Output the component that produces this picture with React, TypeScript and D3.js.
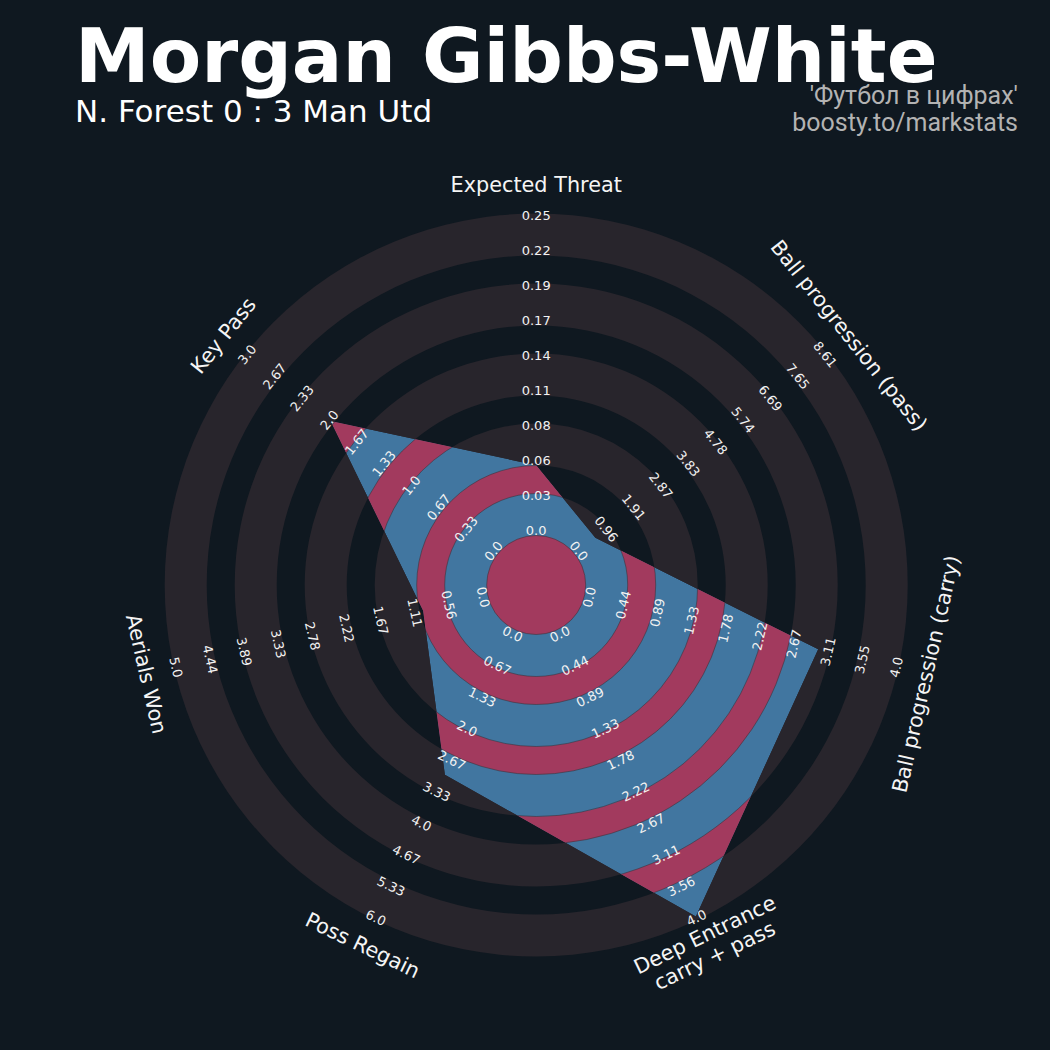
import React from 'react';
import * as d3 from 'd3';

const params = ['Expected Threat', 'Ball progression (pass)', 'Ball progression (carry)', 'Deep Entrance\ncarry + pass', 'Poss Regain', 'Aerials Won', 'Key Pass'];
const lows = [0, 0, 0, 0, 0, 0, 0];
const highs = [0.25, 8.61, 4.0, 4.0, 6.0, 5.0, 3.0];
const values = [0.053, 0.62, 3.0, 4.0, 3.0, 1.0, 2.0];
const rangeLabels = [
  ['0.0', '0.03', '0.06', '0.08', '0.11', '0.14', '0.17', '0.19', '0.22', '0.25'],
  ['0.0', '0.96', '1.91', '2.87', '3.83', '4.78', '5.74', '6.69', '7.65', '8.61'],
  ['0.0', '0.44', '0.89', '1.33', '1.78', '2.22', '2.67', '3.11', '3.55', '4.0'],
  ['0.0', '0.44', '0.89', '1.33', '1.78', '2.22', '2.67', '3.11', '3.56', '4.0'],
  ['0.0', '0.67', '1.33', '2.0', '2.67', '3.33', '4.0', '4.67', '5.33', '6.0'],
  ['0.0', '0.56', '1.11', '1.67', '2.22', '2.78', '3.33', '3.89', '4.44', '5.0'],
  ['0.0', '0.33', '0.67', '1.0', '1.33', '1.67', '2.0', '2.33', '2.67', '3.0'],
];
const title = 'Morgan Gibbs-White';
const subtitle = 'N. Forest 0 : 3 Man Utd';
const credits = ["'Футбол в цифрах'", 'boosty.to/markstats'];

const W = 1050;
const H = 1050;
const cx = 536.2;
const cy = 585;
const rInner = 53;
const rOuter = 368;
const inflate = 3.5;
const paramR = 400;

const BG = '#0f1820';
const GRAY = '#28252c';
const BLUE = '#4176a0';
const CRIMSON = '#a23a5e';
const FONT = "'DejaVu Sans', sans-serif";

function rotFor(deg: number) {
  if (deg > 90 && deg < 270) return deg - 180;
  if (deg >= 270) return deg - 360;
  return deg;
}

export default function App() {
  const n = params.length;
  const angleScale = d3.scaleLinear().domain([0, n]).range([0, 2 * Math.PI]);
  const ringScale = d3.scaleLinear().domain([0, 9]).range([rInner, rOuter]);
  const edges = d3.range(10).map((k) => ringScale(k));
  const radial = params.map((_, i) => d3.scaleLinear().domain([lows[i], highs[i]]).range([rInner, rOuter]));

  const pt = (a: number, r: number): [number, number] => [cx + r * Math.sin(a), cy - r * Math.cos(a)];

  const polyPts = values.map((v, i) => pt(angleScale(i), radial[i](v)));
  const polyPath = d3.line()(polyPts.concat([polyPts[0]])) + 'Z';

  const arc = d3.arc();
  const darkBands: [number, number][] = [[0, edges[0] - inflate]];
  for (let j = 1; j < 9; j += 2) darkBands.push([edges[j] + inflate, edges[j + 1] - inflate]);
  const annulus = (a: number, b: number) =>
    arc({ innerRadius: a, outerRadius: b, startAngle: 0, endAngle: 2 * Math.PI } as any) as string;

  return (
    <svg width={W} height={H} style={{ position: 'absolute', left: 0, top: 0, background: BG }}>
      <rect x={0} y={0} width={W} height={H} fill={BG} />
      <defs>
        <clipPath id="polyClip">
          <path d={polyPath} transform={`translate(${-cx},${-cy})`} />
        </clipPath>
      </defs>
      <g transform={`translate(${cx},${cy})`}>
        <circle r={rOuter + inflate} fill={GRAY} />
        {darkBands.map(([a, b], i) => (
          <path key={'d' + i} d={annulus(a, b)} fill={BG} />
        ))}
        <g clipPath="url(#polyClip)">
          <path d={polyPath} transform={`translate(${-cx},${-cy})`} fill={BLUE} />
          {darkBands.map(([a, b], i) => (
            <path key={'c' + i} d={annulus(a, b)} fill={CRIMSON} stroke="#3a3540" strokeWidth={0.6} />
          ))}
        </g>
      </g>

      {params.map((p, i) => {
        const deg = (angleScale(i) * 180) / Math.PI;
        const rot = rotFor(deg);
        return rangeLabels[i].map((lab, k) => {
          const [x, y] = pt(angleScale(i), ringScale(k) + 1.5);
          return (
            <text
              key={`r${i}-${k}`}
              x={x}
              y={y}
              transform={`rotate(${rot},${x},${y})`}
              textAnchor="middle"
              dominantBaseline="central"
              fontFamily={FONT}
              fontSize={13}
              fill="#f2f2f2"
            >
              {lab}
            </text>
          );
        });
      })}

      {params.map((p, i) => {
        const deg = (angleScale(i) * 180) / Math.PI;
        const rot = rotFor(deg);
        const [x, y] = pt(angleScale(i), paramR);
        const lines = p.split('\n');
        const lh = 23;
        return (
          <g key={'p' + i} transform={`translate(${x},${y}) rotate(${rot})`}>
            {lines.map((ln, j) => (
              <text
                key={j}
                x={0}
                y={(j - (lines.length - 1) / 2) * lh}
                textAnchor="middle"
                dominantBaseline="central"
                fontFamily={FONT}
                fontSize={20.8}
                fill="#f5f5f5"
              >
                {ln}
              </text>
            ))}
          </g>
        );
      })}

      <text x={75} y={82} fontFamily={FONT} fontWeight="bold" fontSize={75} fill="#ffffff">
        {title}
      </text>
      <text x={75} y={122} fontFamily={FONT} fontSize={31} fill="#ffffff">
        {subtitle}
      </text>
      <text x={1018} y={104} textAnchor="end" fontFamily="Roboto, sans-serif" fontSize={25} fill="#b3b3b3">
        {credits[0]}
      </text>
      <text x={1018} y={131} textAnchor="end" fontFamily="Roboto, sans-serif" fontSize={25} fill="#b3b3b3">
        {credits[1]}
      </text>
    </svg>
  );
}
